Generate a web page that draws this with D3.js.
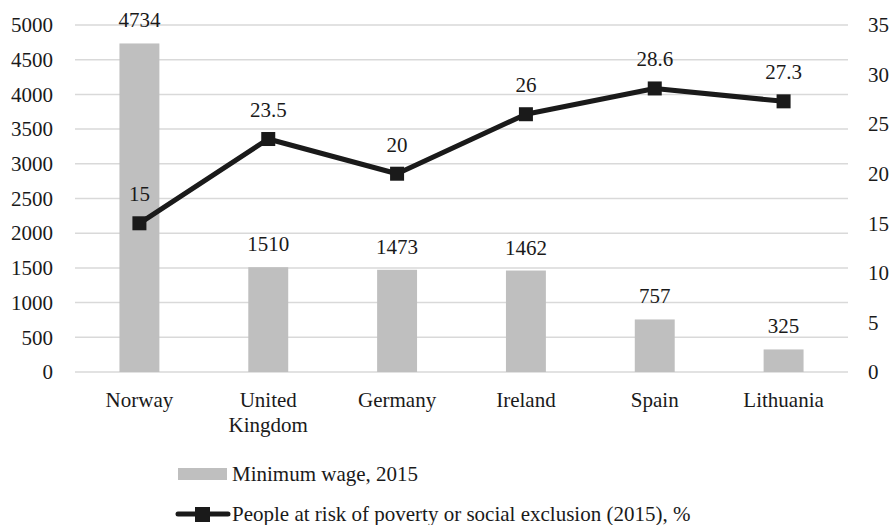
<!DOCTYPE html>
<html>
<head>
<meta charset="utf-8">
<script src="https://cdn.jsdelivr.net/npm/d3@7"></script>
<style>
  html, body { margin: 0; padding: 0; background: #fff; }
  svg { display: block; }
  text { font-family: "Liberation Serif", "Tinos", "Times New Roman", "Times", "Nimbus Roman", "DejaVu Serif", "Noto Serif", "FreeSerif", serif; fill: #1a1a1a; }
</style>
</head>
<body>
<svg id="chart" width="892" height="525"></svg>
<script>
// Countries shown along the x axis
const categories = ["Norway", "United Kingdom", "Germany", "Ireland", "Spain", "Lithuania"];
// Minimum wage, 2015 (EUR per month) – bars, left axis
const minimumWage = [4734, 1510, 1473, 1462, 757, 325];
// People at risk of poverty or social exclusion (2015), % – line, right axis
const povertyRisk = [15, 23.5, 20, 26, 28.6, 27.3];
// Axis ticks
const leftTicks = [0, 500, 1000, 1500, 2000, 2500, 3000, 3500, 4000, 4500, 5000];
const rightTicks = [0, 5, 10, 15, 20, 25, 30, 35];
// Legend entries
const legendLabels = ["Minimum wage, 2015", "People at risk of poverty or social exclusion (2015), %"];

const svg = d3.select("#chart");
const fontSize = 21;
const plot = { left: 75, right: 848, top: 25, bottom: 372 };

const x = d3.scaleBand()
  .domain(categories)
  .range([plot.left, plot.right])
  .paddingInner(0.69)
  .paddingOuter(0.345);

const yLeft = d3.scaleLinear().domain([0, 5000]).range([plot.bottom, plot.top]);
const yRight = d3.scaleLinear().domain([0, 35]).range([plot.bottom, plot.top]);

// Horizontal gridlines
svg.append("g")
  .selectAll("line")
  .data(leftTicks)
  .join("line")
  .attr("x1", plot.left)
  .attr("x2", plot.right)
  .attr("y1", d => yLeft(d))
  .attr("y2", d => yLeft(d))
  .attr("stroke", "#d9d9d9")
  .attr("stroke-width", 1.5);

// Left axis
const leftAxis = svg.append("g")
  .attr("transform", `translate(${plot.left},0)`)
  .call(d3.axisLeft(yLeft).tickValues(leftTicks).tickSize(0).tickPadding(22).tickFormat(d3.format("d")));
leftAxis.attr("font-family", null);
leftAxis.select(".domain").remove();
leftAxis.selectAll("text")
  .style("font-size", fontSize + "px")
  .attr("fill", "#1a1a1a");

// Right axis
const rightAxis = svg.append("g")
  .attr("transform", `translate(${plot.right},0)`)
  .call(d3.axisRight(yRight).tickValues(rightTicks).tickSize(0).tickPadding(20).tickFormat(d3.format("d")));
rightAxis.attr("font-family", null);
rightAxis.select(".domain").remove();
rightAxis.selectAll("text")
  .style("font-size", fontSize + "px")
  .attr("fill", "#1a1a1a");

// Bars
svg.append("g")
  .selectAll("rect")
  .data(categories)
  .join("rect")
  .attr("x", d => x(d))
  .attr("width", x.bandwidth())
  .attr("y", (d, i) => yLeft(minimumWage[i]))
  .attr("height", (d, i) => yLeft(0) - yLeft(minimumWage[i]))
  .attr("fill", "#bfbfbf");

// Bar value labels
svg.append("g")
  .selectAll("text")
  .data(categories)
  .join("text")
  .attr("x", d => x(d) + x.bandwidth() / 2)
  .attr("y", (d, i) => yLeft(minimumWage[i]) - 16)
  .attr("text-anchor", "middle")
  .style("font-size", fontSize + "px")
  .text((d, i) => minimumWage[i]);

// Poverty risk line
const cx = d => x(d) + x.bandwidth() / 2;
const line = d3.line()
  .x((d, i) => cx(categories[i]))
  .y(d => yRight(d));

svg.append("path")
  .datum(povertyRisk)
  .attr("d", line)
  .attr("fill", "none")
  .attr("stroke", "#1a1a1a")
  .attr("stroke-width", 5)
  .attr("stroke-linejoin", "round");

const marker = 14;
svg.append("g")
  .selectAll("rect")
  .data(povertyRisk)
  .join("rect")
  .attr("x", (d, i) => cx(categories[i]) - marker / 2)
  .attr("y", d => yRight(d) - marker / 2)
  .attr("width", marker)
  .attr("height", marker)
  .attr("fill", "#1a1a1a");

svg.append("g")
  .selectAll("text")
  .data(povertyRisk)
  .join("text")
  .attr("x", (d, i) => cx(categories[i]))
  .attr("y", d => yRight(d) - 22)
  .attr("text-anchor", "middle")
  .style("font-size", fontSize + "px")
  .text(d => d);

// Category labels (long names wrap onto two lines)
const catLabels = svg.append("g")
  .selectAll("text")
  .data(categories)
  .join("text")
  .attr("x", d => cx(d))
  .attr("y", 407)
  .attr("text-anchor", "middle")
  .style("font-size", fontSize + "px");
catLabels.each(function(d) {
  const parts = d === "United Kingdom" ? ["United", "Kingdom"] : [d];
  d3.select(this).selectAll("tspan")
    .data(parts)
    .join("tspan")
    .attr("x", cx(d))
    .attr("dy", (p, i) => i === 0 ? 0 : 25)
    .text(p => p);
});

// Legend
const legend = svg.append("g");
legend.append("rect")
  .attr("x", 178).attr("y", 468)
  .attr("width", 49).attr("height", 12)
  .attr("fill", "#bfbfbf");
legend.append("text")
  .attr("x", 232).attr("y", 481)
  .style("font-size", fontSize + "px")
  .text(legendLabels[0]);

legend.append("line")
  .attr("x1", 178).attr("x2", 228)
  .attr("y1", 514).attr("y2", 514)
  .attr("stroke", "#1a1a1a")
  .attr("stroke-width", 5)
  .attr("stroke-linecap", "round");
legend.append("rect")
  .attr("x", 195).attr("y", 507)
  .attr("width", 15).attr("height", 15)
  .attr("fill", "#1a1a1a");
legend.append("text")
  .attr("x", 232).attr("y", 521)
  .style("font-size", fontSize + "px")
  .text(legendLabels[1]);
</script>
</body>
</html>
